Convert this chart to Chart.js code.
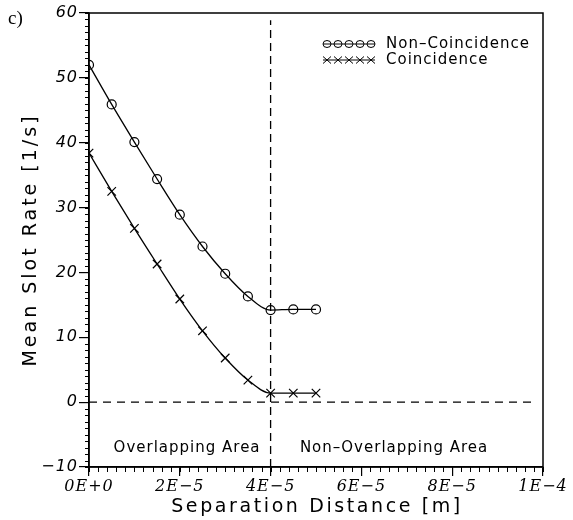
<!DOCTYPE html>
<html>
<head>
<meta charset="utf-8">
<script src="https://cdn.jsdelivr.net/npm/chart.js@4.4.1/dist/chart.umd.min.js"></script>
<style>
  body { margin: 0; background: #fff; }
  canvas { display: block; }
</style>
</head>
<body>
<canvas id="graficoSlot" width="573" height="520"></canvas>
<script>
// separation distance [m]
const sepDist = [0, 5e-6, 1e-5, 1.5e-5, 2e-5, 2.5e-5, 3e-5, 3.5e-5, 4e-5, 4.5e-5, 5e-5];
const nonCoincidence = [52.0, 45.9, 40.1, 34.4, 28.9, 24.0, 19.8, 16.3, 14.2, 14.3, 14.3];
const coincidence = [38.4, 32.5, 26.8, 21.3, 15.9, 11.0, 6.8, 3.4, 1.4, 1.4, 1.4];

const xTickLabels = ["0E+0", "2E\u22125", "4E\u22125", "6E\u22125", "8E\u22125", "1E\u22124"];
const seriesNames = ["Non-Coincidence", "Coincidence"];
const areaNames = ["Overlapping Area", "Non-Overlapping Area"];
const xTitle = "Separation Distance [m]";
const yTitle = "Mean Slot Rate [1/s]";

// limite entre zonas
const boundaryX = 4e-5;

const toPoints = (ys) => ys.map((y, i) => ({ x: sepDist[i], y: y }));

const extras = {
    id: "extras",
    beforeDraw(chart) {
        chart.ctx.letterSpacing = "1px";
    },
    afterDraw(chart) {
        const { ctx, chartArea: a, scales: { x, y } } = chart;
        ctx.save();
        ctx.strokeStyle = "#000";
        ctx.fillStyle = "#000";

        // marco
        ctx.lineWidth = 1.5;
        ctx.strokeRect(a.left, a.top, a.right - a.left, a.bottom - a.top);

        // ticks menores
        ctx.lineWidth = 1;
        ctx.beginPath();
        for (let v = -10; v <= 60; v += 1) {
            const py = Math.round(y.getPixelForValue(v)) + 0.5;
            ctx.moveTo(a.left - 4, py);
            ctx.lineTo(a.left, py);
        }
        for (let k = 0; k <= 50; k++) {
            const px = Math.round(x.getPixelForValue(k * 2e-6)) + 0.5;
            ctx.moveTo(px, a.bottom);
            ctx.lineTo(px, a.bottom + 5);
        }
        ctx.stroke();

        // leyenda
        ctx.font = "15px 'DejaVu Sans'";
        ctx.letterSpacing = "1px";
        ctx.textBaseline = "middle";
        ctx.textAlign = "left";
        const rows = [44, 60];
        rows.forEach((ry, r) => {
            const x0 = 327;
            ctx.lineWidth = 1;
            ctx.beginPath();
            ctx.moveTo(x0 - 4, ry);
            ctx.lineTo(x0 + 4 * 11 + 4, ry);
            ctx.stroke();
            for (let m = 0; m < 5; m++) {
                const cx = x0 + m * 11;
                ctx.beginPath();
                if (r === 0) {
                    ctx.ellipse(cx, ry, 4, 3.5, 0, 0, Math.PI * 2);
                } else {
                    ctx.moveTo(cx - 4, ry - 3.5);
                    ctx.lineTo(cx + 4, ry + 3.5);
                    ctx.moveTo(cx - 4, ry + 3.5);
                    ctx.lineTo(cx + 4, ry - 3.5);
                }
                ctx.stroke();
            }
            ctx.fillText(seriesNames[r].replace("-", "\u2013"), 386, ry);
        });

        // etiquetas de zonas
        ctx.textAlign = "center";
        ctx.fillText(areaNames[0], x.getPixelForValue(2.16e-5), y.getPixelForValue(-7.1));
        ctx.fillText(areaNames[1].replace("-", "\u2013"), x.getPixelForValue(6.72e-5), y.getPixelForValue(-7.1));

        // titulos de ejes
        ctx.font = "19px 'DejaVu Sans'";
        ctx.letterSpacing = "2.6px";
        ctx.fillText(xTitle, (a.left + a.right) / 2 + 1, 507);
        ctx.save();
        ctx.translate(31, (a.top + a.bottom) / 2);
        ctx.rotate(-Math.PI / 2);
        ctx.letterSpacing = "3px";
        ctx.fillText(yTitle, 0, 0);
        ctx.restore();

        // c)
        ctx.letterSpacing = "0px";
        ctx.textAlign = "left";
        ctx.font = "19px 'Liberation Serif'";
        ctx.fillText("c)", 8, 19);
        ctx.restore();
    },
};

const dataGraficoSlot = {
    datasets: [
        {
            label: seriesNames[0],
            data: toPoints(nonCoincidence),
            borderColor: "#000",
            backgroundColor: "transparent",
            borderWidth: 1.3,
            pointStyle: "circle",
            pointRadius: 4.5,
            pointBorderWidth: 1.2,
            pointBorderColor: "#000",
            pointBackgroundColor: "transparent",
            cubicInterpolationMode: "monotone",
        },
        {
            label: seriesNames[1],
            data: toPoints(coincidence),
            borderColor: "#000",
            backgroundColor: "transparent",
            borderWidth: 1.3,
            pointStyle: "crossRot",
            pointRadius: 6,
            pointBorderWidth: 1.2,
            pointBorderColor: "#000",
            cubicInterpolationMode: "monotone",
        },
        {
            label: "limite",
            data: [{ x: boundaryX, y: -10 }, { x: boundaryX, y: 58.9 }],
            borderColor: "#000",
            borderWidth: 1.3,
            borderDash: [8, 5],
            pointRadius: 0,
        },
        {
            label: "cero",
            data: [{ x: 0, y: 0 }, { x: 9.85e-5, y: 0 }],
            borderColor: "#000",
            borderWidth: 1.3,
            borderDash: [8, 6],
            pointRadius: 0,
        },
    ],
};

const configGraficoSlot = {
    type: "line",
    data: dataGraficoSlot,
    options: {
        responsive: false,
        animation: false,
        devicePixelRatio: 1,
        layout: {
            padding: { top: 13, right: 30, left: 0, bottom: 0 },
        },
        plugins: {
            legend: { display: false },
            tooltip: { enabled: false },
        },
        scales: {
            x: {
                type: "linear",
                min: 0,
                max: 1e-4,
                afterFit: (scale) => { scale.height = 53; },
                afterBuildTicks: (scale) => {
                    scale.ticks = xTickLabels.map((l, i) => ({ value: i * 2e-5 }));
                },
                ticks: {
                    autoSkip: false,
                    maxRotation: 0,
                    padding: 1,
                    color: "#000",
                    font: { family: "'DejaVu Serif'", style: "italic", size: 16 },
                    callback: (value, index) => xTickLabels[index],
                },
                grid: {
                    drawOnChartArea: false,
                    tickLength: 9,
                    color: "#000",
                    lineWidth: 1.2,
                },
                border: { display: true, color: "#000", width: 1.5 },
            },
            y: {
                min: -10,
                max: 60,
                afterFit: (scale) => { scale.width = 89; },
                ticks: {
                    stepSize: 10,
                    padding: 1,
                    color: "#000",
                    font: { family: "'DejaVu Sans'", style: "italic", size: 16 },
                    callback: (value) => String(value).replace("-", "\u2212"),
                },
                grid: {
                    drawOnChartArea: false,
                    tickLength: 10,
                    color: "#000",
                    lineWidth: 1.2,
                },
                border: { display: true, color: "#000", width: 1.5 },
            },
        },
    },
    plugins: [extras],
};

const chartSlot = new Chart(
    document.getElementById("graficoSlot"),
    configGraficoSlot
);
</script>
</body>
</html>
